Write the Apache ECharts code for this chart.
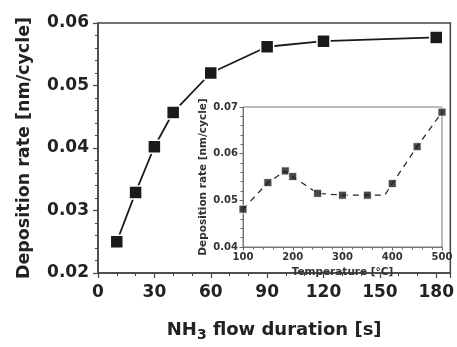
<!DOCTYPE html>
<html>
<head>
<meta charset="utf-8">
<script src="https://cdn.jsdelivr.net/npm/echarts@6/dist/echarts.min.js"></script>
<style>
  html, body { margin: 0; padding: 0; background: #fff; }
  #chart { width: 457px; height: 347px; }
</style>
</head>
<body>
<div id="chart"></div>
<script>
// main plot: deposition rate vs NH3 flow duration
var flowDuration = [10, 20, 30, 40, 60, 90, 120, 180];
var depRate = [0.0250, 0.0329, 0.0402, 0.0457, 0.0520, 0.0562, 0.0571, 0.0577];

// inset: deposition rate vs temperature
var temperature = [100, 150, 185, 200, 250, 300, 350, 400, 450, 500];
var tempRate = [0.0481, 0.0538, 0.0563, 0.0551, 0.0515, 0.0511, 0.0511, 0.0536, 0.0615, 0.0689];
// the dashed guide line bends here before rising to 400
var bendTemp = 385, bendRate = 0.0511;

var FONT = 'DejaVu Sans';
var myChart = echarts.init(document.getElementById('chart'), null, { renderer: 'canvas' });

var mainPts = flowDuration.map(function (x, i) { return [x, depRate[i]]; });
var insetPts = temperature.map(function (x, i) { return [x, tempRate[i]]; });
var insetLine = insetPts.slice(0, 7).concat([[bendTemp, bendRate]], insetPts.slice(7));

var option = {
  backgroundColor: '#fff',
  animation: false,
  grid: [{
    left: 98, top: 23, right: 4, bottom: 64,
    show: true, borderColor: '#444', borderWidth: 1.5
  }, {
    left: 243, top: 107, width: 199, height: 140,
    show: true, borderColor: '#777', borderWidth: 1, backgroundColor: '#fff'
  }],
  xAxis: [{
    gridIndex: 0, type: 'value', min: 0, max: 187.5, interval: 30,
    name: 'NH{sub|3} flow duration [s]',
    nameLocation: 'middle', nameGap: 45,
    nameTextStyle: {
      fontFamily: FONT, fontWeight: 'bold', fontSize: 18, color: '#222',
      rich: { sub: { fontFamily: FONT, fontWeight: 'bold', fontSize: 14, color: '#222', verticalAlign: 'bottom', padding: [10, 0, 0, 0] } }
    },
    axisLine: { lineStyle: { color: '#444', width: 1.5 } },
    axisTick: { inside: false, length: 5, lineStyle: { color: '#444', width: 1.2 } },
    minorTick: { show: true, splitNumber: 3, length: 3, lineStyle: { color: '#444' } },
    splitLine: { show: false },
    axisLabel: {
      margin: 11, showMaxLabel: false,
      fontFamily: FONT, fontWeight: 'bold', fontSize: 17, color: '#222'
    }
  }, {
    gridIndex: 1, type: 'value', min: 100, max: 500, interval: 100,
    name: 'Temperature [°C]',
    nameLocation: 'middle', nameGap: 20,
    nameTextStyle: { fontFamily: FONT, fontWeight: 'bold', fontSize: 10.5, color: '#333' },
    axisLine: { lineStyle: { color: '#777', width: 1 } },
    axisTick: { inside: false, length: 3.5, lineStyle: { color: '#666' } },
    minorTick: { show: true, splitNumber: 5, length: 2.5, lineStyle: { color: '#666' } },
    splitLine: { show: false },
    axisLabel: { margin: 5, fontFamily: FONT, fontWeight: 'bold', fontSize: 10, color: '#333' }
  }],
  yAxis: [{
    gridIndex: 0, type: 'value', min: 0.02, max: 0.06, interval: 0.01,
    name: 'Deposition rate [nm/cycle]',
    nameLocation: 'middle', nameGap: 65,
    nameTextStyle: { fontFamily: FONT, fontWeight: 'bold', fontSize: 17.5, color: '#222' },
    axisLine: { lineStyle: { color: '#444', width: 1.5 } },
    axisTick: { inside: false, length: 5, lineStyle: { color: '#444', width: 1.2 } },
    minorTick: { show: true, splitNumber: 5, length: 3, lineStyle: { color: '#444' } },
    splitLine: { show: false },
    axisLabel: {
      margin: 9, fontFamily: FONT, fontWeight: 'bold', fontSize: 17, color: '#222',
      formatter: function (v) { return v.toFixed(2); }
    }
  }, {
    gridIndex: 1, type: 'value', min: 0.04, max: 0.07, interval: 0.01,
    name: 'Deposition rate [nm/cycle]',
    nameLocation: 'middle', nameGap: 34,
    nameTextStyle: { fontFamily: FONT, fontWeight: 'bold', fontSize: 10.5, color: '#333' },
    axisLine: { lineStyle: { color: '#777', width: 1 } },
    axisTick: { inside: false, length: 3.5, lineStyle: { color: '#666' } },
    minorTick: { show: true, splitNumber: 5, length: 2.5, lineStyle: { color: '#666' } },
    splitLine: { show: false },
    axisLabel: {
      margin: 5, fontFamily: FONT, fontWeight: 'bold', fontSize: 10, color: '#333',
      formatter: function (v) { return v.toFixed(2); }
    }
  }],
  series: [{
    type: 'line', xAxisIndex: 0, yAxisIndex: 0,
    data: mainPts,
    lineStyle: { color: '#1a1a1a', width: 1.8 },
    symbol: 'rect', symbolSize: 13,
    itemStyle: { color: '#1a1a1a', borderColor: '#fff', borderWidth: 1.5 },
    z: 3
  }, {
    type: 'line', xAxisIndex: 1, yAxisIndex: 1,
    data: insetLine,
    showSymbol: false, symbol: 'none',
    lineStyle: { color: '#222', width: 1.2, type: [6, 5] },
    z: 3
  }, {
    type: 'scatter', xAxisIndex: 1, yAxisIndex: 1,
    data: insetPts,
    symbol: 'rect', symbolSize: 8,
    itemStyle: { color: '#1a1a1a', borderColor: '#fff', borderWidth: 1 },
    z: 4
  }]
};
myChart.setOption(option);
</script>
</body>
</html>
